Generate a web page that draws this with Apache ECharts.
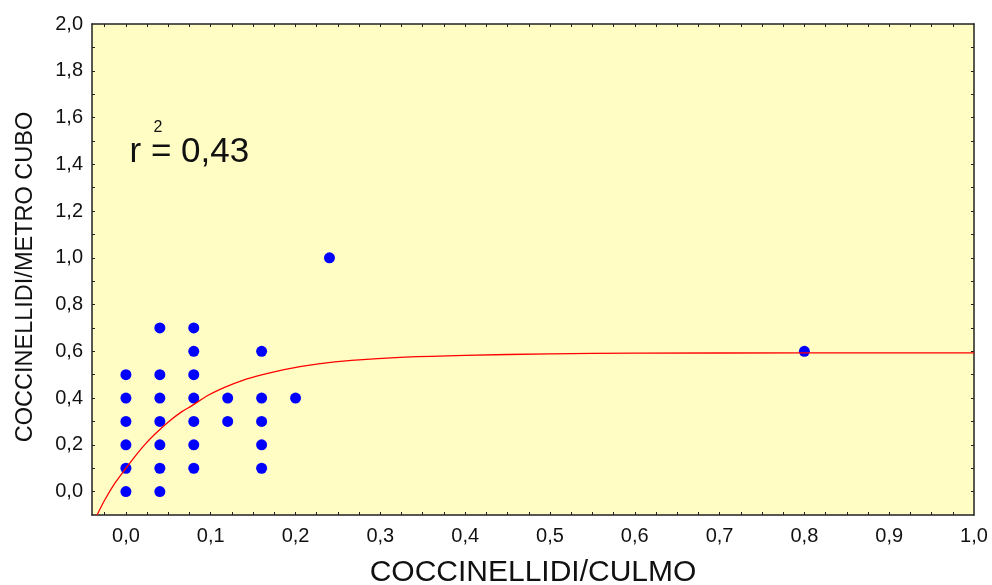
<!DOCTYPE html>
<html>
<head>
<meta charset="utf-8">
<script src="https://cdn.jsdelivr.net/npm/echarts@6/dist/echarts.min.js"></script>
<style>
html,body{margin:0;padding:0;background:#fff;}
#chart{width:992px;height:585px;}
</style>
</head>
<body>
<div id="chart"></div>
<script>
// Observations: COCCINELLIDI/CULMO (x) vs COCCINELLIDI/METRO CUBO (y)
const culmo = [
  0, 0, 0, 0, 0, 0,
  0.04, 0.04, 0.04, 0.04, 0.04, 0.04, 0.04,
  0.08, 0.08, 0.08, 0.08, 0.08, 0.08, 0.08,
  0.12, 0.12,
  0.16, 0.16, 0.16, 0.16, 0.16,
  0.2,
  0.24,
  0.8
];
const metroCubo = [
  0.0, 0.1, 0.2, 0.3, 0.4, 0.5,
  0.0, 0.1, 0.2, 0.3, 0.4, 0.5, 0.7,
  0.1, 0.2, 0.3, 0.4, 0.5, 0.6, 0.7,
  0.3, 0.4,
  0.1, 0.2, 0.3, 0.4, 0.6,
  0.4,
  1.0,
  0.6
];
// Fitted curve
const curveX = [-0.034, -0.025, -0.013, 0, 0.011, 0.022, 0.034, 0.05, 0.066, 0.078, 0.097, 0.117, 0.137, 0.16, 0.188, 0.227, 0.266, 0.329, 0.4, 0.5, 0.6, 0.8, 1.0];
const curveY = [-0.10, -0.036, 0.036, 0.10, 0.152, 0.200, 0.245, 0.298, 0.342, 0.368, 0.412, 0.447, 0.475, 0.499, 0.523, 0.546, 0.561, 0.575, 0.583, 0.589, 0.592, 0.593, 0.593];

// Axis ticks and labels
const xLabelValues = [0, 0.1, 0.2, 0.3, 0.4, 0.5, 0.6, 0.7, 0.8, 0.9, 1.0];
const xTickValues = [-0.025, 0, 0.025, 0.05, 0.075, 0.1, 0.125, 0.15, 0.175, 0.2, 0.225, 0.25, 0.275, 0.3, 0.325, 0.35, 0.375, 0.4, 0.425, 0.45, 0.475, 0.5, 0.525, 0.55, 0.575, 0.6, 0.625, 0.65, 0.675, 0.7, 0.725, 0.75, 0.775, 0.8, 0.825, 0.85, 0.875, 0.9, 0.925, 0.95, 0.975];
const yLabelValues = [0, 0.2, 0.4, 0.6, 0.8, 1.0, 1.2, 1.4, 1.6, 1.8, 2.0];
const yTickValues = [0, 0.1, 0.2, 0.3, 0.4, 0.5, 0.6, 0.7, 0.8, 0.9, 1.0, 1.1, 1.2, 1.3, 1.4, 1.5, 1.6, 1.7, 1.8, 1.9];

const xTitle = 'COCCINELLIDI/CULMO';
const yTitle = 'COCCINELLIDI/METRO CUBO';
const rText = 'r = 0,43';
const rSup = '2';

const FONT = '"Liberation Sans", Arial, sans-serif';
const fmt = v => Number(v).toFixed(1).replace('.', ',');

const chart = echarts.init(document.getElementById('chart'), null, {renderer: 'canvas'});

const axisLine = {show: true, onZero: false, lineStyle: {color: '#222', width: 1.5}};
const tickStyle = {lineStyle: {color: '#222', width: 1}};

const option = {
  animation: false,
  backgroundColor: '#ffffff',
  grid: {
    left: 92, top: 24, right: 18, bottom: 70,
    show: true, backgroundColor: '#FFFDC4', borderWidth: 0
  },
  xAxis: [
    {
      type: 'value', position: 'bottom', min: -0.04, max: 1.0,
      axisLine: axisLine,
      axisTick: Object.assign({show: true, inside: true, length: 3, customValues: xTickValues}, tickStyle),
      axisLabel: {show: true, customValues: xLabelValues, formatter: fmt, color: '#111', fontFamily: FONT, fontSize: 20, margin: 11},
      splitLine: {show: false}
    },
    {
      type: 'value', position: 'top', min: -0.04, max: 1.0,
      axisLine: axisLine,
      axisTick: Object.assign({show: true, inside: true, length: 3, customValues: xTickValues}, tickStyle),
      axisLabel: {show: false},
      splitLine: {show: false}
    }
  ],
  yAxis: [
    {
      type: 'value', position: 'left', min: -0.1, max: 2.0,
      axisLine: axisLine,
      axisTick: Object.assign({show: true, inside: true, length: 3, customValues: yTickValues}, tickStyle),
      axisLabel: {show: true, customValues: yLabelValues, formatter: fmt, color: '#111', fontFamily: FONT, fontSize: 20, margin: 9},
      splitLine: {show: false}
    },
    {
      type: 'value', position: 'right', min: -0.1, max: 2.0,
      axisLine: axisLine,
      axisTick: Object.assign({show: true, inside: true, length: 3, customValues: yTickValues}, tickStyle),
      axisLabel: {show: false},
      splitLine: {show: false}
    }
  ],
  series: [
    {
      type: 'scatter',
      xAxisIndex: 0, yAxisIndex: 0,
      data: culmo.map((x, i) => [x, metroCubo[i]]),
      symbol: 'circle', symbolSize: 11,
      itemStyle: {color: '#0000FF', opacity: 1},
      z: 2
    },
    {
      type: 'line',
      xAxisIndex: 0, yAxisIndex: 0,
      data: curveX.map((x, i) => [x, curveY[i]]),
      showSymbol: false, smooth: 0.3, clip: true,
      lineStyle: {color: '#FF0000', width: 1.3},
      z: 3
    }
  ],
  graphic: [
    {
      type: 'text', x: 533, y: 573,
      style: {text: xTitle, font: '30px ' + FONT, fill: '#111', align: 'center', verticalAlign: 'middle'}
    },
    {
      type: 'text', x: 26, y: 277, rotation: Math.PI / 2,
      style: {text: yTitle, font: '23.5px ' + FONT, fill: '#111', align: 'center', verticalAlign: 'middle'}
    },
    {
      type: 'text', x: 129.5, y: 152,
      style: {text: rText, font: '35px ' + FONT, fill: '#111', align: 'left', verticalAlign: 'middle'}
    },
    {
      type: 'text', x: 158, y: 128,
      style: {text: rSup, font: '16px ' + FONT, fill: '#111', align: 'center', verticalAlign: 'middle'}
    }
  ]
};
chart.setOption(option);
</script>
</body>
</html>
